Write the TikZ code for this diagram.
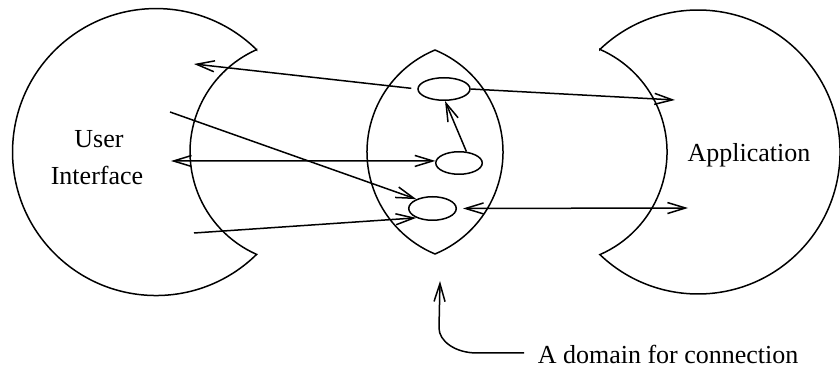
\documentclass[tikz,border=0pt]{standalone}
\usepackage{fontspec}
\setmainfont{Liberation Serif}
\usetikzlibrary{arrows.meta,shapes.geometric}
\begin{document}
\begin{tikzpicture}[x=0.5pt,y=0.5pt,line width=0.75pt,
  tip/.tip={Straight Barb[length=9pt,width=5.5pt]},
  arr/.style={-tip},
  darr/.style={tip-tip},
  oval/.style={draw,ellipse,inner sep=0pt},
  lbl/.style={font=\fontsize{13}{15.6}\selectfont,inner sep=0pt}]
\useasboundingbox (0,0) rectangle (840,369);
\clip (0,0) rectangle (840,369);
% left crescent (User Interface)
\draw (256.6,319.3) arc[start angle=45.5,end angle=314.5,radius=143.5]
      arc[start angle=246.07,end angle=113.93,radius=112] -- cycle;
% right crescent (Application)
\draw (599.9,319.6) arc[start angle=133.73,end angle=-133.73,radius=142]
      arc[start angle=-66.38,end angle=66.38,radius=112] -- cycle;
% lens
\draw (435,319) arc[start angle=112.62,end angle=247.38,radius=110.5]
      arc[start angle=-67.38,end angle=67.38,radius=110.5] -- cycle;
% labels
\node[lbl,anchor=base] (user) at (99,221) {User};
\node[lbl,anchor=base] (iface) at (97,184) {Interface};
\node[lbl,anchor=base] (app) at (749,207) {Application};
\node[lbl,anchor=west,text height=11pt,text depth=0pt,inner xsep=6.5pt] (dom) at (524,16) {A domain for connection};
% ellipses
\node[oval,minimum width=26pt,minimum height=11.25pt] (e1) at (444,280) {};
\node[oval,minimum width=23.25pt,minimum height=11.25pt] (e2) at (459,206) {};
\node[oval,minimum width=23.75pt,minimum height=11.75pt] (e3) at (432.5,160.5) {};
% free ends
\coordinate (L1) at (194,305);
\coordinate (L2) at (170,257);
\coordinate (L3) at (171,208);
\coordinate (L4) at (194,136);
\coordinate (R1) at (675,269);
\coordinate (R2) at (688,161);
\coordinate (tipD) at (440,88);
% connectors
\draw[arr,shorten <=3pt] (e1.west) -- (L1);
\draw[arr] (L2) -- (e3.150);
\draw[darr] (L3) -- (e2.175);
\draw[arr] (L4) -- (e3.210);
\draw[arr] (e2.57) -- (e1.-85);
\draw[arr] (e1.east) -- (R1);
\draw[darr,shorten <=3pt] (e3.east) -- (R2);
\draw[arr] (dom.west) -- (477,16) .. controls (455,16) and (439,28) .. (439,41) -- (tipD);
\end{tikzpicture}
\end{document}
